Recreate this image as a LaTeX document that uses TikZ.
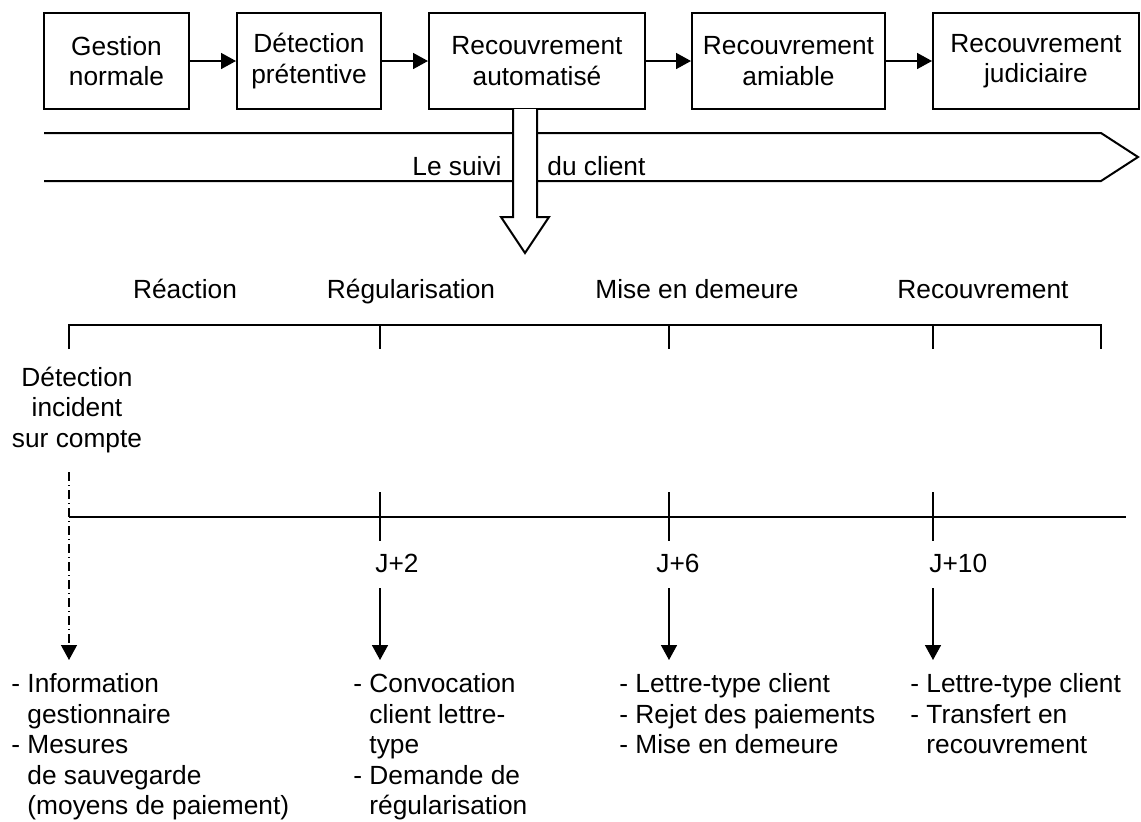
\documentclass[tikz,border=0pt]{standalone}
\usepackage{fontspec}
\setmainfont{Liberation Sans}
\usetikzlibrary{arrows.meta}
\tikzset{
	etape/.style={draw, line width=1pt, minimum height=48pt, inner sep=0pt, align=center},
	fleche/.style={-{Triangle[length=7.5pt,width=8pt]}, line width=0.8pt},
	liste/.style={anchor=north west, inner sep=0pt, align=left},
	texte/.style={inner sep=0pt}
}
\begin{document}
\begin{tikzpicture}[x=0.5pt, y=-0.5pt, font=\fontsize{13.15}{15.3}\selectfont]
		\useasboundingbox (0,0) rectangle (1141,821);
		\node[etape, minimum width=72.5pt] (gest) 	at ( 116.5, 61) {Gestion\\normale};
		\node[etape, minimum width=72pt]   (det) 	at ( 309.0, 61) {Détection\\prétentive};
		\node[etape, minimum width=108pt]  (auto) 	at ( 537.0, 61) {Recouvrement\\automatisé};
		\node[etape, minimum width=96.5pt] (amia) 	at ( 788.5, 61) {Recouvrement\\amiable};
		\node[etape, minimum width=103pt]  (judi) 	at (1036.0, 61) {Recouvrement\\judiciaire};
		\draw[fleche] (gest) -- (det);
		\draw[fleche] (det) -- (auto);
		\draw[fleche] (auto) -- (amia);
		\draw[fleche] (amia) -- (judi);
		\draw[line width=1pt] (44,133) -- (1101,133) -- (1138,157) -- (1101,181) -- (44,181);
		\node[texte, anchor=east] (suivi) 	at (502,166) {Le suivi};
		\node[texte, anchor=west] (client) 	at (547,166) {du client};
		\draw[line width=1pt, fill=white] (513,109) -- (513,217) -- (501,217) -- (525,253) -- (549,217) -- (537,217) -- (537,109);
		\node[texte, anchor=base] (reac) 	at (185,298) {Réaction};
		\node[texte, anchor=base] (regu) 	at (411,298) {Régularisation};
		\node[texte, anchor=base] (dem) 	at (697,298) {Mise en demeure};
		\node[texte, anchor=base] (rec) 	at (983,298) {Recouvrement};
		\draw[line width=0.8pt] (69,349) -- (69,325) -- (1101,325) -- (1101,349);
		\foreach \x in {380,669,933}
			\draw[line width=0.8pt] (\x,325) -- (\x,349);
		\node[align=center] (inc) 	at (77,410) {Détection\\incident\\sur compte};
		\draw[line width=0.8pt] (69,517) -- (1126,517);
		\foreach \x in {380,669,933}
			\draw[line width=0.8pt] (\x,492) -- (\x,541);
		\node[texte, anchor=west] (j2) 	at (375,563) {J+2};
		\node[texte, anchor=west] (j6) 	at (656,563) {J+6};
		\node[texte, anchor=west] (j10) at (929,563) {J+10};
		\coordinate (d0) at (69,472);
		\coordinate (f0) at (69,660);
		\draw[fleche, line width=0.6pt, dash pattern=on 4.5pt off 2pt on 0.5pt off 2pt] (d0) -- (f0);
		\foreach \x/\n in {380/2, 669/6, 933/10}{
			\coordinate (d\n) at (\x,588);
			\coordinate (f\n) at (\x,660);
			\draw[fleche] (d\n) -- (f\n);
		}
		\node[liste] (act0) 	at (11,673) {- Information\\\phantom{- }gestionnaire\\- Mesures\\\phantom{- }de sauvegarde\\\phantom{- }(moyens de paiement)};
		\node[liste] (act2) 	at (353,673) {- Convocation\\\phantom{- }client lettre-\\\phantom{- }type\\- Demande de\\\phantom{- }régularisation};
		\node[liste] (act6) 	at (619,673) {- Lettre-type client\\- Rejet des paiements\\- Mise en demeure};
		\node[liste] (act10) 	at (910,673) {- Lettre-type client\\- Transfert en\\\phantom{- }recouvrement};
	\end{tikzpicture}
\end{document}
